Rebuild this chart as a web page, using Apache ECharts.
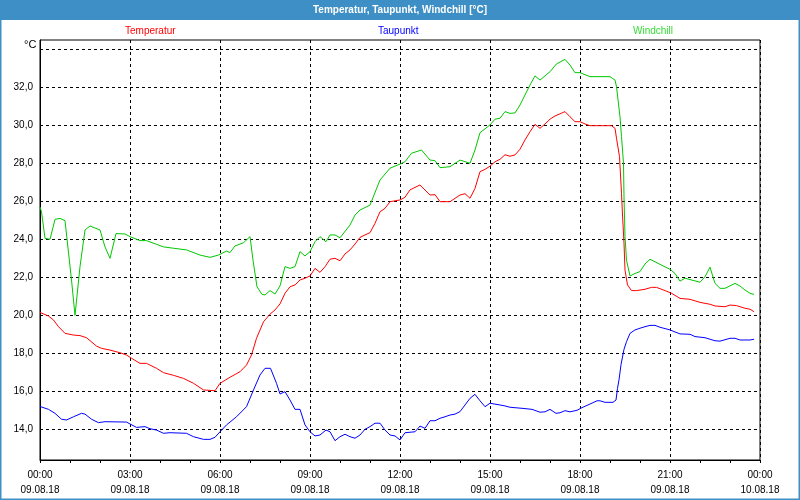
<!DOCTYPE html>
<html>
<head>
<meta charset="utf-8">
<script src="https://cdn.jsdelivr.net/npm/echarts@6/dist/echarts.min.js"></script>
<style>
html,body{margin:0;padding:0;background:#fff;}
#chart{width:800px;height:500px;}
</style>
</head>
<body>
<div id="chart"></div>
<script>
// minutes since 09.08.18 00:00
var tempTimes = [0,17,27,37,50,67,80,93,113,123,140,160,173,183,200,213,233,247,267,287,307,327,350,360,380,400,413,423,433,447,460,470,480,490,500,510,520,530,540,550,560,570,580,590,600,610,620,630,640,650,660,670,680,690,700,720,730,740,760,780,790,800,820,840,850,860,870,880,890,900,910,920,930,940,950,960,970,980,990,1000,1010,1020,1030,1050,1060,1070,1080,1090,1100,1143,1150,1153,1159,1163,1165,1168,1170,1175,1183,1193,1210,1223,1233,1250,1263,1280,1300,1320,1340,1350,1370,1380,1393,1410,1420,1428];
var tempValues = [20.15,19.96,19.75,19.4,19.05,18.96,18.93,18.82,18.38,18.26,18.17,18.03,17.91,17.74,17.47,17.47,17.21,16.98,16.84,16.68,16.42,16.07,16.03,16.42,16.74,17.03,17.38,17.91,18.79,19.66,20.06,20.28,20.6,21.16,21.5,21.6,21.86,21.95,22.07,22.47,22.26,22.56,22.95,23.0,22.87,23.23,23.44,23.75,24.1,24.23,24.35,24.84,25.45,25.63,25.98,26.07,26.21,26.6,26.86,26.33,26.35,25.98,25.98,26.33,26.4,26.16,26.68,27.56,27.68,27.85,28.08,28.21,28.45,28.37,28.44,28.74,29.23,29.66,30.05,29.84,30.07,30.32,30.49,30.72,30.45,30.19,30.19,30.07,29.98,29.98,29.84,29.32,28.35,26.42,25.28,23.79,22.38,21.6,21.3,21.3,21.37,21.47,21.47,21.3,21.16,20.89,20.84,20.68,20.58,20.49,20.45,20.54,20.51,20.37,20.32,20.19];

var dewTimes = [0,17,30,43,53,67,83,90,103,117,130,173,180,193,210,220,233,247,260,293,307,327,340,350,360,373,393,413,427,440,450,461,473,480,490,500,510,520,530,540,550,560,572,580,590,600,610,620,630,640,650,660,670,680,690,700,710,720,730,750,760,770,780,790,800,810,820,830,840,850,860,870,880,890,900,920,930,940,966,984,1000,1010,1020,1032,1040,1050,1060,1074,1084,1100,1114,1120,1130,1146,1152,1155,1158,1162,1168,1173,1180,1190,1200,1210,1220,1230,1240,1260,1280,1300,1310,1330,1350,1360,1380,1390,1400,1420,1428];
var dewValues = [15.2,15.05,14.84,14.53,14.49,14.66,14.84,14.8,14.53,14.35,14.4,14.38,14.28,14.1,14.14,14.03,13.96,13.79,13.82,13.79,13.61,13.47,13.47,13.58,13.87,14.23,14.66,15.19,16.07,16.86,17.21,17.21,16.42,15.86,15.98,15.54,15.05,15.05,14.23,13.87,13.65,13.7,13.96,13.87,13.4,13.61,13.74,13.61,13.53,13.7,14.0,14.14,14.32,14.32,13.96,13.7,13.65,13.44,13.82,13.87,14.17,14.05,14.45,14.45,14.58,14.66,14.75,14.8,14.93,15.28,15.63,15.84,15.5,15.19,15.37,15.28,15.23,15.16,15.1,15.05,14.9,14.92,15.05,14.84,14.87,14.98,14.92,15.0,15.14,15.33,15.5,15.5,15.42,15.42,15.54,16.16,16.6,17.4,18.21,18.61,19.05,19.23,19.32,19.4,19.47,19.47,19.37,19.23,19.02,19.0,18.88,18.82,18.66,18.64,18.79,18.79,18.7,18.7,18.74];

var chillTimes = [0,3,10,20,30,40,50,63,70,80,90,100,120,130,140,152,170,180,200,213,247,267,293,320,340,357,373,380,390,407,420,426,434,444,450,460,470,480,490,500,510,520,530,540,550,560,572,580,590,600,620,630,640,660,680,700,720,730,743,763,780,790,800,820,840,860,870,880,900,910,920,930,940,950,960,980,990,1000,1020,1033,1050,1060,1070,1080,1100,1120,1140,1150,1153,1160,1163,1167,1168,1170,1173,1180,1190,1200,1210,1220,1240,1260,1270,1280,1290,1300,1320,1330,1340,1350,1360,1370,1390,1400,1410,1420,1428];
var chillValues = [25.7,25.45,24.05,24.0,25.05,25.1,24.98,21.86,20.0,22.56,24.49,24.7,24.49,23.6,23.0,24.3,24.28,24.14,23.93,23.93,23.6,23.53,23.44,23.17,23.05,23.17,23.38,23.3,23.65,23.82,24.14,22.9,21.5,21.1,21.07,21.3,21.12,21.55,22.56,22.47,22.56,23.35,23.12,23.35,23.87,24.14,23.87,24.23,24.23,24.08,24.75,25.28,25.54,25.8,27.12,27.74,27.96,28.08,28.53,28.7,28.17,28.14,27.77,27.82,28.17,28.0,28.7,29.61,30.02,30.32,30.37,30.72,30.63,30.65,31.07,32.12,32.6,32.38,32.82,33.23,33.47,33.17,32.77,32.77,32.56,32.56,32.56,32.38,32.03,30.45,29.4,28.0,26.24,24.14,22.9,22.07,22.2,22.3,22.7,22.95,22.68,22.42,22.2,21.8,21.95,21.88,21.74,22.03,22.53,21.68,21.42,21.42,21.68,21.54,21.33,21.16,21.1];

var yTickValues = [14,16,18,20,22,24,26,28,30,32,34];
var yLabelValues = [14,16,18,20,22,24,26,28,30,32];
var seriesNames = ['Temperatur','Taupunkt','Windchill'];
var seriesColors = ['#ff0000','#0000ff','#00c800'];

function zip(t, v){ return t.map(function(x,i){ return [x, v[i]]; }); }
function pad(n){ return (n<10?'0':'')+n; }

var FONT = 'Liberation Sans, Arial, sans-serif';
var chart = echarts.init(document.getElementById('chart'), null, {renderer:'canvas'});

function legendFor(i, left){
  return {
    show: true, left: left, top: 21, itemWidth: 0, itemHeight: 0, icon: 'none',
    selectedMode: false,
    data: [{name: seriesNames[i], textStyle: {color: i===2 ? '#33dd33' : seriesColors[i]}}],
    textStyle: {fontFamily: FONT, fontSize: 10, padding: 0}
  };
}

chart.setOption({
  animation: false,
  backgroundColor: '#ffffff',
  title: {
    text: 'Temperatur, Taupunkt, Windchill [°C]',
    left: 'center', top: 0,
    textStyle: {color: '#ffffff', fontFamily: FONT, fontSize: 10, fontWeight: 'bold'}
  },
  legend: [legendFor(0, 115), legendFor(1, 368), legendFor(2, 623)],
  graphic: [
    {type: 'rect', z: -10, shape: {x: 0, y: 0, width: 800, height: 20}, style: {fill: '#3d8fc6'}},
    {type: 'rect', z: -10, shape: {x: 0.5, y: 0.5, width: 799, height: 499}, style: {fill: null, stroke: '#3d8fc6', lineWidth: 2}},
    {type: 'text', left: 24, top: 39, style: {text: '°C', fill: '#000', font: '11px ' + FONT}}
  ],
  grid: {
    left: 40, right: 40, top: 40, bottom: 40,
    show: true, borderColor: '#000', borderWidth: 1, backgroundColor: '#ffffff'
  },
  xAxis: {
    type: 'value', min: 0, max: 1440, interval: 180,
    axisLine: {show: true, onZero: false, lineStyle: {color: '#000', width: 1}},
    axisTick: {show: true, length: 3, lineStyle: {color: '#000'}},
    minorTick: {show: true, splitNumber: 3, length: 3, lineStyle: {color: '#000'}},
    splitLine: {show: true, lineStyle: {color: '#000', type: [3, 3], width: 1}},
    axisLabel: {
      color: '#000', fontFamily: FONT, fontSize: 10, lineHeight: 15, margin: 8,
      formatter: function(v){
        var h = Math.floor(v/60) % 24;
        var d = v >= 1440 ? '10.08.18' : '09.08.18';
        return pad(h) + ':00\n' + d;
      }
    }
  },
  yAxis: {
    type: 'value', min: 12.384, max: 34.489,
    axisLine: {show: true, lineStyle: {color: '#000', width: 1}},
    axisTick: {show: false, customValues: yTickValues},
    splitLine: {show: true, lineStyle: {color: '#000', type: [3, 3], width: 1}},
    axisLabel: {
      customValues: yLabelValues,
      color: '#000', fontFamily: FONT, fontSize: 10, margin: 7,
      formatter: function(v){ return v.toFixed(1).replace('.', ','); }
    }
  },
  series: [
    {name: seriesNames[0], type: 'line', data: zip(tempTimes, tempValues), showSymbol: false, symbol: 'none',
     lineStyle: {color: seriesColors[0], width: 1}, itemStyle: {color: seriesColors[0]}, z: 3},
    {name: seriesNames[1], type: 'line', data: zip(dewTimes, dewValues), showSymbol: false, symbol: 'none',
     lineStyle: {color: seriesColors[1], width: 1}, itemStyle: {color: seriesColors[1]}, z: 2},
    {name: seriesNames[2], type: 'line', data: zip(chillTimes, chillValues), showSymbol: false, symbol: 'none',
     lineStyle: {color: seriesColors[2], width: 1}, itemStyle: {color: seriesColors[2]}, z: 1}
  ]
});
</script>
</body>
</html>
